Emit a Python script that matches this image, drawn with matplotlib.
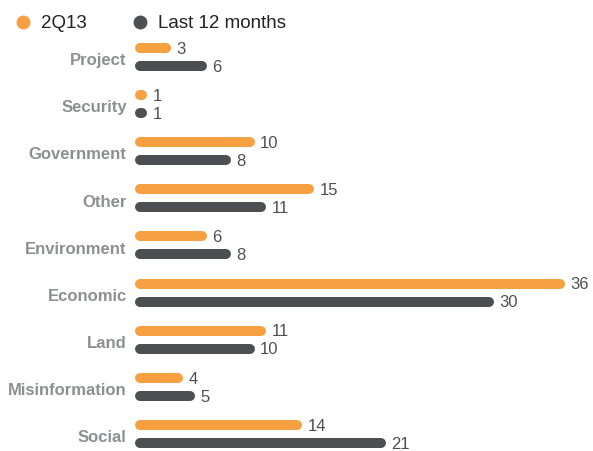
import matplotlib
matplotlib.use("Agg")
import matplotlib.pyplot as plt
from matplotlib.lines import Line2D

categories = ["Project", "Security", "Government", "Other", "Environment",
              "Economic", "Land", "Misinformation", "Social"]
q2_13 = [3, 1, 10, 15, 6, 36, 11, 4, 14]
last12 = [6, 1, 8, 11, 8, 30, 10, 5, 21]
series_names = ["2Q13", "Last 12 months"]

ORANGE = "#F7A041"
DARK = "#4E4F52"
LABEL = "#8D8F92"

plt.rcParams["font.family"] = ["Liberation Sans", "DejaVu Sans"]

W, H = 593, 451
fig = plt.figure(figsize=(W / 100, H / 100), dpi=100)
left_px = 135
ax = fig.add_axes([left_px / W, 0, 1 - left_px / W, 1])

px_per_unit = 11.95
ax.set_xlim(0, (W - left_px) / px_per_unit)
step = 47.1
first = 48
ax.set_ylim((H - first) / step, -first / step)
gap = 18 / step

lw_px = 10
lw_pt = lw_px * 72 / 100
cap = (lw_px / 2) / px_per_unit

for i, (cat, a, b) in enumerate(zip(categories, q2_13, last12)):
    for val, y, col in ((a, i, ORANGE), (b, i + gap, DARK)):
        ax.plot([cap, max(val - cap, cap)], [y, y], color=col, lw=lw_pt,
                solid_capstyle="round")
        ax.annotate(str(val), (val, y), xytext=(4, -1), textcoords="offset points",
                    ha="left", va="center", fontsize=12, color=DARK)
    ax.annotate(cat, (0, i + 0.27), xytext=(-6, 0), textcoords="offset points",
                ha="right", va="center", fontsize=12, fontweight="bold",
                color=LABEL, annotation_clip=False)

ax.axis("off")

# legend
for x_px, name, col in ((23, series_names[0], ORANGE), (140, series_names[1], DARK)):
    fig.add_artist(Line2D([x_px / W], [1 - 22 / H], marker="o", markersize=9,
                          color=col, transform=fig.transFigure, linestyle="none"))
    fig.text((x_px + 18) / W, 1 - 24 / H, name, ha="left", va="center",
             fontsize=13.5, color="#222222")

fig.savefig("out.png", dpi=100)
